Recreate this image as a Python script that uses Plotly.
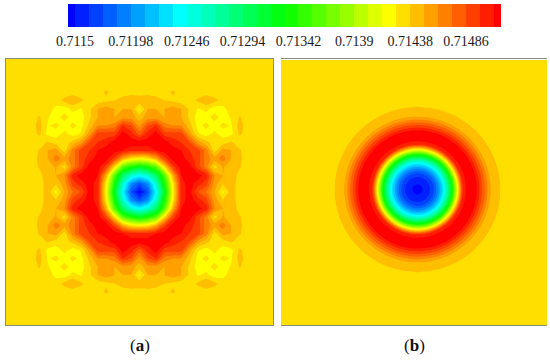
import numpy as np
import plotly.graph_objects as go

FIRST_LEVEL = 0.7115
STEP = 0.00012
TICK_VALUES = [0.7115, 0.71198, 0.71246, 0.71294, 0.71342, 0.7139, 0.71438, 0.71486]
TICK_LABELS = ["0.7115", "0.71198", "0.71246", "0.71294", "0.71342", "0.7139", "0.71438", "0.71486"]

BAND_COLORS = [
    "#0000FF", "#0020FF", "#0040FF", "#0060FF", "#0080FF", "#00A0FF", "#00C0FF", "#00E0FF",
    "#00FFFF", "#00FFDD", "#00FFBB", "#00FF99", "#00FF77", "#00FF55", "#00FF33", "#00FF11",
    "#11FF00", "#33FF00", "#55FF00", "#77FF00", "#99FF00", "#BBFF00", "#DDFF00", "#FFFF00",
    "#FFDF00", "#FFBF00", "#FF9F00", "#FF7F00", "#FF5F00", "#FF3F00", "#FF1F00", "#FF0000",
]

# Panel (a): upper-left quadrant, in colour-band units.
# Row = grid steps above centre, column = grid steps left of centre.
QUADRANT_A = [
    [0, 2.5, 8, 14.5, 23, 30, 31, 28.5, 27.5, 25.5, 23.2, 25, 24, 24, 24, 24, 24],
    [2.5, 4.5, 9.5, 16, 23.5, 30, 31, 30, 29, 26, 24.6, 25, 24, 24, 24, 24, 24],
    [8, 9.5, 12.5, 18, 25.5, 30.5, 31, 31, 30, 26.5, 25.5, 25.4, 24, 24, 24, 24, 24],
    [14.5, 16, 18, 24, 29, 31, 31, 29, 27, 24, 25.6, 25, 24.6, 24, 24, 24, 24],
    [23, 23.5, 25.5, 29, 31, 31, 30, 29, 27, 26, 27, 25.5, 24.7, 24, 24, 24, 24],
    [30, 30, 30.5, 31, 31, 30.5, 29.5, 29, 27, 24, 26, 25.5, 24.6, 24, 24, 24, 24],
    [31, 31, 31, 31, 30, 29.5, 28.5, 26, 24.8, 24, 24, 24.6, 24, 24, 24, 24, 24],
    [28, 30, 31, 29, 29, 29, 26, 23.6, 23, 23.8, 23, 23.2, 24.7, 24, 24, 24, 24],
    [26, 28.5, 29.5, 27, 26.5, 26.5, 24.8, 23.2, 23.8, 23, 23.8, 23.4, 24.9, 24, 24, 24, 24],
    [25, 26, 26, 25.5, 26.5, 25.5, 24.3, 23, 23, 24, 23, 23.6, 24.6, 24, 24, 24, 24],
    [23.2, 25.5, 25.5, 25.5, 26, 25.5, 24.3, 23.4, 23.8, 23, 23.2, 24, 24, 24, 24, 24, 24],
    [25.2, 25.5, 25, 24.5, 24.3, 24, 24, 24.7, 25.5, 24.8, 24, 24, 24, 24, 24, 24, 24],
    [24, 24, 24, 24, 24.7, 24, 24, 24, 24, 24, 24, 24, 24, 24, 24, 24, 24],
    [24, 24, 24, 24, 24, 24, 24, 24, 24, 24, 24, 24, 24, 24, 24, 24, 24],
    [24, 24, 24, 24, 24, 24, 24, 24, 24, 24, 24, 24, 24, 24, 24, 24, 24],
    [24, 24, 24, 24, 24, 24, 24, 24, 24, 24, 24, 24, 24, 24, 24, 24, 24],
    [24, 24, 24, 24, 24, 24, 24, 24, 24, 24, 24, 24, 24, 24, 24, 24, 24],
]

# Panel (b): radial profile (radius in px, colour-band units).
RADIUS_B = [0, 5, 10, 15, 20, 25, 30, 35, 40, 45, 50, 58, 62, 66, 70, 73, 83, 84, 140, 200]
BAND_B = [0, 0.5, 1, 2, 4, 7, 11, 16, 23, 29.5, 31, 31, 29.5, 28, 26.5, 25.5, 24.51, 24, 24, 24]
CENTRE_B = (3.5, 3.0)


def to_value(band):
    return FIRST_LEVEL + STEP * (np.asarray(band, dtype=float) - 0.5)


n_bands = len(BAND_COLORS)
scale_pairs = []
for i, c in enumerate(BAND_COLORS):
    scale_pairs += [[i / n_bands, c], [(i + 1) / n_bands, c]]

z_min = FIRST_LEVEL - STEP
z_max = FIRST_LEVEL + STEP * (n_bands - 1)

q = np.array(QUADRANT_A, dtype=float)
top = np.hstack([q[:, :0:-1], q])
field_a = np.vstack([top[:0:-1], top])
axis_a = np.arange(-16, 17)

axis_b = np.arange(-133.0, 134.0, 1.0)
xx, yy = np.meshgrid(axis_b, axis_b)
field_b = np.interp(np.hypot(xx - CENTRE_B[0], yy - CENTRE_B[1]), RADIUS_B, BAND_B)

contours = dict(coloring="fill", start=z_min, end=z_max + STEP, size=STEP, showlines=False)

fig = go.Figure()
fig.add_trace(go.Contour(
    x=axis_a, y=axis_a, z=to_value(field_a), contours=contours, autocontour=False,
    line=dict(width=0, smoothing=0), colorscale=scale_pairs, zmin=z_min, zmax=z_max + STEP,
    showscale=False, hoverinfo="skip", xaxis="x", yaxis="y",
))
fig.add_trace(go.Contour(
    x=axis_b, y=axis_b, z=to_value(field_b), contours=contours, autocontour=False,
    line=dict(width=0, smoothing=0), colorscale=scale_pairs, zmin=z_min, zmax=z_max + STEP,
    showscale=False, hoverinfo="skip", xaxis="x2", yaxis="y2",
))

edges = [FIRST_LEVEL - STEP / 2] + [FIRST_LEVEL + i * STEP for i in range(n_bands - 1)]
edges.append(FIRST_LEVEL + STEP * (n_bands - 1.5))
fig.add_trace(go.Heatmap(
    x=edges, y=[0, 1], z=[list(range(n_bands))],
    colorscale=scale_pairs, zmin=-0.5, zmax=n_bands - 0.5,
    showscale=False, hoverinfo="skip", xaxis="x3", yaxis="y3",
))

W, H = 550, 361
border = dict(showline=True, mirror=True, linecolor="#8c8c7c", linewidth=1, automargin=False,
              showgrid=False, zeroline=False, showticklabels=False, ticks="")


def xdom(a, b):
    return [a / W, b / W]


def ydom(top_px, bot_px):
    return [1 - bot_px / H, 1 - top_px / H]


fig.update_layout(
    width=W, height=H, autosize=False,
    margin=dict(l=0, r=0, t=0, b=0),
    paper_bgcolor="white", plot_bgcolor="white",
    showlegend=False,
    font=dict(family="Liberation Serif", color="#1a1a1a", size=14),
    xaxis=dict(domain=xdom(6, 273), range=[-16, 16], **border),
    yaxis=dict(domain=ydom(59, 325), range=[-16, 16], **border),
    xaxis2=dict(domain=xdom(281, 547), range=[-133, 133], **border),
    yaxis2=dict(domain=ydom(60, 325), range=[-133, 133], **border),
    xaxis3=dict(domain=xdom(68, 501), range=[edges[0], edges[-1]], showgrid=False, zeroline=False,
                tickmode="array", tickvals=TICK_VALUES, ticktext=TICK_LABELS, ticks="",
                showline=False, tickfont=dict(family="Liberation Serif", size=14, color="#1a1a1a"),
                anchor="y3", automargin=False, ticklabelstandoff=4),
    yaxis3=dict(domain=ydom(4, 27), range=[0, 1], showgrid=False, zeroline=False, automargin=False,
                showticklabels=False, ticks="", anchor="x3"),
    annotations=[
        dict(text="(<b>a</b>)", x=140 / W, y=1 - 345 / H, xref="paper", yref="paper",
             showarrow=False, xanchor="center", yanchor="middle",
             font=dict(family="Liberation Serif", size=17, color="#111111")),
        dict(text="(<b>b</b>)", x=414 / W, y=1 - 345 / H, xref="paper", yref="paper",
             showarrow=False, xanchor="center", yanchor="middle",
             font=dict(family="Liberation Serif", size=17, color="#111111")),
    ],
)

fig.write_html("out.html", config={"displayModeBar": False},
               post_script="document.body.style.margin='0';document.body.style.overflow='hidden';")
